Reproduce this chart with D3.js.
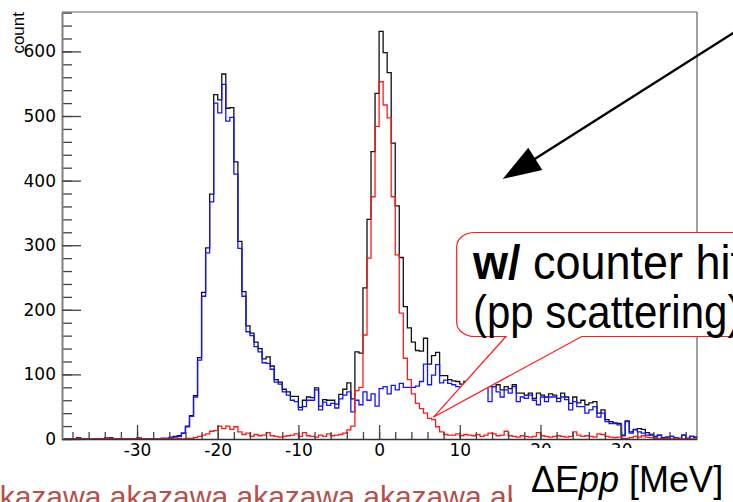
<!DOCTYPE html>
<html>
<head>
<meta charset="utf-8">
<script src="https://cdn.jsdelivr.net/npm/d3@7"></script>
<style>
  body { margin: 0; background: #fff; }
  svg { display: block; }
</style>
</head>
<body>
<script>
// histogram bins: 0.5 MeV wide, first bin starts at -39 MeV
var binStart = -39;
var binWidth = 0.5;

// all events (black)
var allCounts = [
  0,0,0,2,0,0,0,0,0,0,2,2,0,0,0,0,0,0,2,0,0,0,0,0,1,1,3,4,
  5,9,20,36,67,126,227,296,379,533,525,565,512,513,429,306,228,175,164,150,
  140,124,127,113,92,88,77,73,66,66,49,60,65,64,79,51,61,60,60,54,
  69,77,87,62,135,133,234,340,445,535,631,598,567,458,361,281,205,172,150,137,
  136,156,116,129,134,98,98,92,90,89,85,89,
  84,87,83,84,89,81,
  81,84,76,81,78,84,71,71,68,71,63,71,68,65,70,68,63,71,65,55,65,56,60,53,56,
  58,40,45,30,27,25,24,6,28,11,15,16,15,10,7,4,6,2,3,4,2,1,6,1,4,3
];

// w/o counter hit (blue)
var noHitCounts = [
  0,0,0,1,0,0,0,0,0,0,0,1,0,0,0,0,0,0,0,0,0,0,0,0,1,1,2,3,
  4,9,19,35,65,122,221,288,367,520,505,549,492,498,410,295,221,166,160,143,
  135,118,117,108,88,85,73,68,60,58,45,50,60,60,76,45,57,52,55,48,
  62,68,73,42,60,53,73,60,70,51,78,81,70,83,76,86,80,80,80,82,
  89,116,84,99,115,87,91,86,84,81,80,82,
  78,82,76,80,83,58,
  81,73,65,76,71,81,58,65,63,68,60,53,65,58,65,65,58,65,61,45,58,50,50,40,45,
  50,34,40,27,24,24,22,5,27,9,14,11,9,6,6,3,6,1,3,4,2,1,6,1,4,3
];

// w/ counter hit, pp scattering (red)
var hitCounts = [
  0,0,0,1,0,0,0,0,0,0,2,1,0,0,0,0,0,0,2,0,0,0,0,0,0,0,1,0,
  1,0,1,1,2,4,6,8,12,13,20,16,20,15,19,11,7,9,4,7,
  5,6,10,5,4,3,4,5,6,8,4,10,5,4,3,6,4,8,5,6,
  7,9,14,20,75,80,161,280,375,484,553,517,497,375,285,195,125,92,70,55,
  47,40,32,30,19,11,7,6,6,8,5,7,
  6,5,7,4,6,9,
  8,5,6,12,5,4,3,5,4,3,4,10,5,4,3,4,5,4,3,4,11,6,4,5,4,
  3,8,7,4,3,2,3,1,1,2,4,3,5,3,2,1,1,0,1,0,0,1,0,0,0,0
];

var xMajorTicks = [-30, -20, -10, 0, 10, 20, 30];
var yMajorTicks = [0, 100, 200, 300, 400, 500, 600];
var calloutLines = ["counter hit", "(pp scattering)"];

var width = 733, height = 502;
var frameL = 62, frameR = 697, frameT = 12, frameB = 439;

var svg = d3.select("body")
  .append("svg")
  .attr("width", width)
  .attr("height", height);

var x = d3.scaleLinear().domain([-39.3, 39.4]).range([frameL, frameR]);
var y = d3.scaleLinear().domain([0, 661]).range([frameB, frameT]);

svg.append("clipPath").attr("id", "frame")
  .append("rect")
  .attr("x", frameL).attr("y", frameT)
  .attr("width", frameR - frameL).attr("height", frameB - frameT);

// frame top and right
svg.append("line")
  .attr("x1", frameL).attr("x2", frameR).attr("y1", frameT).attr("y2", frameT)
  .attr("stroke", "#999").attr("stroke-width", 1.5);
svg.append("line")
  .attr("x1", frameR).attr("x2", frameR).attr("y1", frameT).attr("y2", frameB)
  .attr("stroke", "#444").attr("stroke-width", 1);

function stepPoints(counts) {
  var pts = counts.map(function (c, i) { return [binStart + i * binWidth, c]; });
  pts.push([binStart + counts.length * binWidth, counts[counts.length - 1]]);
  return pts;
}

var stepLine = d3.line()
  .x(function (d) { return x(d[0]); })
  .y(function (d) { return y(d[1]); })
  .curve(d3.curveStepAfter);

var hists = svg.append("g").attr("clip-path", "url(#frame)");
var series = [
  { counts: allCounts, color: "#111" },
  { counts: noHitCounts, color: "#1414ff" },
  { counts: hitCounts, color: "#ff1a1a" }
];
hists.selectAll("path")
  .data(series)
  .enter()
  .append("path")
  .attr("d", function (d) { return stepLine(stepPoints(d.counts)); })
  .attr("fill", "none")
  .attr("stroke", function (d) { return d.color; })
  .attr("stroke-width", 1.3);

// y axis
var yMinor = svg.append("g").attr("transform", "translate(" + frameL + ",0)")
  .call(d3.axisLeft(y).tickValues(d3.range(0, 661, 20)).tickSizeInner(-10).tickSizeOuter(0).tickFormat(""));
var yAxis = svg.append("g").attr("transform", "translate(" + frameL + ",0)")
  .call(d3.axisLeft(y).tickValues(yMajorTicks).tickSizeInner(-19).tickSizeOuter(0).tickPadding(6));
yMinor.select(".domain").remove();
yAxis.select(".domain").attr("stroke", "#808080").attr("stroke-width", 2);

// x axis
var xMinor = svg.append("g").attr("transform", "translate(0," + frameB + ")")
  .call(d3.axisBottom(x).tickValues(d3.range(-38, 40, 2)).tickSizeInner(-7).tickSizeOuter(0).tickFormat(""));
var xAxis = svg.append("g").attr("transform", "translate(0," + frameB + ")")
  .call(d3.axisBottom(x).tickValues(xMajorTicks).tickSizeInner(-14).tickSizeOuter(0).tickPadding(5)
    .tickFormat(function (d) { return d < 0 ? "-" + Math.abs(d) : d; }));
xMinor.select(".domain").remove();
xAxis.select(".domain").attr("stroke", "#333").attr("stroke-width", 1.5);

svg.selectAll(".tick line").attr("stroke", "#444").attr("stroke-width", 1.3);
svg.selectAll(".tick text")
  .attr("font-family", "DejaVu Sans, sans-serif")
  .attr("font-size", 17)
  .attr("fill", "#000");

// y title
svg.append("text")
  .attr("transform", "translate(24,12) rotate(-90)")
  .attr("text-anchor", "end")
  .attr("font-family", "Liberation Sans, Arial, sans-serif")
  .attr("font-size", 17)
  .text("count");

// arrow
svg.append("line")
  .attr("x1", 760).attr("y1", 16).attr("x2", 530).attr("y2", 162)
  .attr("stroke", "#000").attr("stroke-width", 2.4);
svg.append("path")
  .attr("d", "M502.7,179 L528.3,147.7 L542.3,170 Z")
  .attr("fill", "#000");

// callout box
svg.append("path")
  .attr("d", "M475,232.5 H760 V336.5 H581.7 L433.3,417.3 L506,336.5 H475 A18,14 0 0 1 456.7,322.5 V246.5 A18,14 0 0 1 475,232.5 Z")
  .attr("fill", "#fff")
  .attr("stroke", "#ff1a1a")
  .attr("stroke-width", 1.2);

var callout = svg.append("g")
  .attr("font-family", "Liberation Sans, Arial, sans-serif")
  .attr("fill", "#000");
var line1 = callout.append("text")
  .attr("font-size", 45)
  .attr("transform", "translate(473,279) scale(1,1.05)");
line1.append("tspan").attr("font-weight", "bold").text("w/");
line1.append("tspan").text(" " + calloutLines[0]);
callout.append("text")
  .attr("font-size", 42)
  .attr("transform", "translate(473,328) scale(1,1.12)")
  .text(calloutLines[1]);

// bottom right label on white
svg.append("rect")
  .attr("x", 512).attr("y", 448).attr("width", 221).attr("height", 54)
  .attr("fill", "#fff");
var xLabel = svg.append("text")
  .attr("x", 531).attr("y", 492)
  .attr("font-family", "Liberation Sans, Arial, sans-serif")
  .attr("font-size", 36)
  .attr("fill", "#000");
xLabel.append("tspan").text("\u0394E");
xLabel.append("tspan").attr("font-style", "italic").text("pp");
xLabel.append("tspan").text(" [MeV]");

// footer text cut at page bottom
svg.append("clipPath").attr("id", "footer")
  .append("rect").attr("x", 0).attr("y", 470).attr("width", 512).attr("height", 40);
svg.append("text")
  .attr("clip-path", "url(#footer)")
  .attr("x", -17).attr("y", 507)
  .attr("font-family", "Liberation Sans, Arial, sans-serif")
  .attr("font-size", 30)
  .attr("fill", "#b5504c")
  .text("akazawa akazawa akazawa akazawa akazawa");
</script>
</body>
</html>
